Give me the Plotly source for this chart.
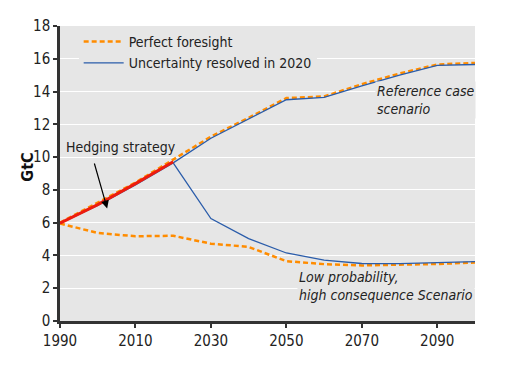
import plotly.graph_objects as go

years = [1990, 2000, 2010, 2020, 2030, 2040, 2050, 2060, 2070, 2080, 2090, 2100]
pf_reference = [6.0, 7.2, 8.45, 9.85, 11.25, 12.4, 13.6, 13.7, 14.45, 15.1, 15.65, 15.75]
pf_low = [5.95, 5.37, 5.17, 5.2, 4.72, 4.52, 3.65, 3.47, 3.39, 3.42, 3.48, 3.57]
ur_reference = [5.95, 7.05, 8.3, 9.65, 11.15, 12.3, 13.5, 13.65, 14.35, 15.0, 15.6, 15.65]
ur_low_years = [2020, 2030, 2040, 2050, 2060, 2070, 2080, 2090, 2100]
ur_low = [9.65, 6.25, 5.03, 4.15, 3.71, 3.51, 3.5, 3.55, 3.62]
hedge_years = [1990, 2000, 2010, 2020]
hedge = [5.97, 7.1, 8.38, 9.72]

y_ticks = [0, 2, 4, 6, 8, 10, 12, 14, 16, 18]
x_ticks = [1990, 2010, 2030, 2050, 2070, 2090]

ORANGE = "#ff8c00"
BLUE = "#2a5caa"
RED = "#ee1c0e"
FONT = "DejaVu Sans Condensed, Roboto, sans-serif"
DASH = "5px,3px"

fig = go.Figure()
fig.add_trace(go.Scatter(x=years, y=pf_low, mode="lines", showlegend=False,
                         line=dict(color=ORANGE, width=2.5, dash=DASH)))
fig.add_trace(go.Scatter(x=ur_low_years, y=ur_low, mode="lines", showlegend=False,
                         line=dict(color=BLUE, width=1.3)))
fig.add_trace(go.Scatter(x=years, y=pf_reference, mode="lines", name="Perfect foresight",
                         line=dict(color=ORANGE, width=2.5, dash=DASH)))
fig.add_trace(go.Scatter(x=years, y=ur_reference, mode="lines", name="Uncertainty resolved in 2020",
                         line=dict(color=BLUE, width=1.3)))
fig.add_trace(go.Scatter(x=hedge_years, y=hedge, mode="lines", showlegend=False,
                         line=dict(color=RED, width=3)))

fig.add_annotation(x=2002.5, y=6.87, ax=1999, ay=9.7, xref="x", yref="y",
                   axref="x", ayref="y", text="", showarrow=True,
                   arrowhead=2, arrowsize=1.3, arrowwidth=1.2, arrowcolor="black")
fig.add_annotation(x=1991.0, y=10.6, xref="x", yref="y", xanchor="left", yanchor="middle",
                   text="Hedging strategy", showarrow=False,
                   font=dict(family=FONT, size=14, color="#222"))
fig.add_annotation(x=2073.5, y=13.5, xref="x", yref="y", xanchor="left", yanchor="middle",
                   text="<i>Reference case<br>scenario</i>", showarrow=False, align="left",
                   bgcolor="#e6e6e6", font=dict(family=FONT, size=14, color="#222"))
fig.add_annotation(x=2052.8, y=2.15, xref="x", yref="y", xanchor="left", yanchor="middle",
                   text="<i>Low probability,<br>high consequence Scenario</i>", showarrow=False,
                   align="left", bgcolor="#e6e6e6", font=dict(family=FONT, size=14, color="#222"))
fig.add_annotation(x=-0.077, y=0.52, xref="paper", yref="paper", xanchor="center",
                   yanchor="middle", text="<b>GtC</b>", textangle=-90, showarrow=False,
                   font=dict(family=FONT, size=16, color="#111"))

fig.update_layout(
    width=507, height=378,
    margin=dict(l=52, r=40, t=18, b=65),
    paper_bgcolor="white", plot_bgcolor="#e6e6e6",
    font=dict(family=FONT, size=14, color="#222"),
    legend=dict(x=0.045, y=1.0, xanchor="left", yanchor="top", bgcolor="#e6e6e6",
                font=dict(family=FONT, size=14, color="#222"), tracegroupgap=0,
                itemwidth=40),
    xaxis=dict(range=[1990, 2100], tickvals=x_ticks, showgrid=False, zeroline=False,
               showline=True, linecolor="#333", linewidth=2.5, ticks="outside",
               ticklen=4, tickcolor="#333", tickwidth=1.5, tickfont=dict(size=15)),
    yaxis=dict(range=[0, 18], tickvals=y_ticks, showgrid=True, gridcolor="white",
               gridwidth=1.3, zeroline=False, showline=True, linecolor="#333",
               linewidth=2.5, ticks="outside", ticklen=4, tickcolor="#333",
               tickwidth=1.5, tickfont=dict(size=15), automargin=False),
)

fig.write_html("out.html")
